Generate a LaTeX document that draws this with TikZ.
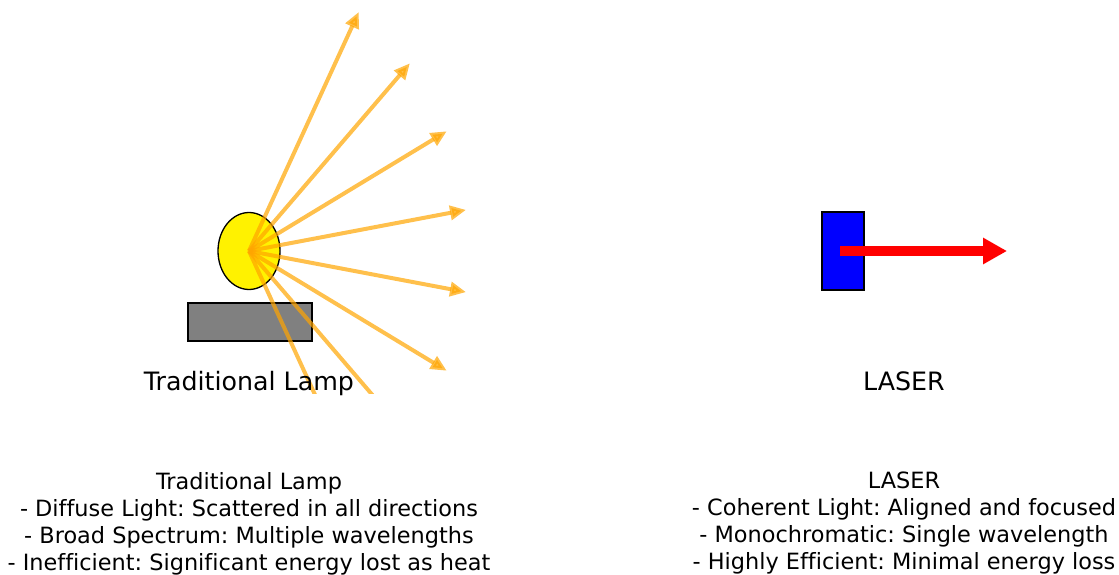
\documentclass[tikz,border=0pt]{standalone}
\usepackage{fontspec}
\setmainfont{DejaVu Sans}[Ligatures=NoCommon]
\usetikzlibrary{arrows.meta,shapes.geometric}
\definecolor{mplorange}{HTML}{FFA500}
\frenchspacing
\begin{document}
\begin{tikzpicture}[x=1pt,y=-1pt,
  ray/.style={draw=mplorange, line width=4pt, opacity=0.7,
    -{Triangle[length=16pt,width=14pt]}},
  laserbeam/.style={draw=red, line width=10pt, -{Triangle[length=24pt,width=25pt]}},
  biglabel/.style={font=\fontsize{25.3}{30}\selectfont, anchor=base, inner sep=0pt},
  infotext/.style={font=\fontsize{22.4}{27}\selectfont, align=center, anchor=north, inner sep=0pt},
  partbox/.style={draw=black, line width=1.3pt, inner sep=0pt}]
\useasboundingbox (0,0) rectangle (1119,575);
% Traditional lamp
\node[partbox, rectangle, fill=gray, minimum width=124pt, minimum height=38pt] (base) at (250,322) {};
\node[partbox, ellipse, fill=yellow, minimum width=62pt, minimum height=77pt] (bulb) at (249,251) {};
\begin{scope}
\clip (0,0) rectangle (560,393);
\foreach \k in {0,...,7}{
  \pgfmathsetmacro{\ang}{-60+\k*120/7}
  \coordinate (r\k) at ({249+219.5*cos(\ang)},{251-276*sin(\ang)});
  \draw[ray] (bulb.center) -- (r\k);
}
\end{scope}
\node[biglabel] (lamplabel) at (249,390) {Traditional Lamp};
% LASER
\node[partbox, rectangle, fill=blue, minimum width=42pt, minimum height=78pt] (laser) at (843,251) {};
\coordinate (beamend) at (1007,251);
\draw[laserbeam] (840,251) -- (beamend);
\node[biglabel] (laserlabel) at (904,390) {LASER};
% descriptions
\node[infotext] (lampinfo) at (249,472) {Traditional Lamp\\- Diffuse Light: Scattered in all directions\\- Broad Spectrum: Multiple wavelengths\\- Inefficient: Significant energy lost as heat};
\node[infotext] (laserinfo) at (904,472) {LASER\\- Coherent Light: Aligned and focused\\- Monochromatic: Single wavelength\\- Highly Efficient: Minimal energy loss};
\end{tikzpicture}
\end{document}
